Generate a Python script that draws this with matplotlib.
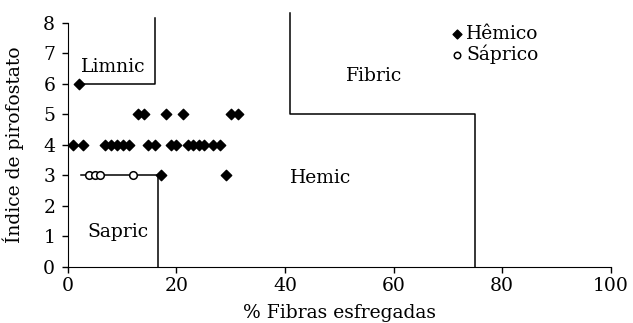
import matplotlib
matplotlib.use("Agg")
import matplotlib.pyplot as plt

plt.rcParams['font.family'] = ['DejaVu Serif']

# Data
hemico_x = [2.1,
            12.9, 14.0, 18.1, 21.2, 30.0, 31.3,
            0.9, 2.8, 6.9, 8.0, 9.0, 10.1, 11.2, 14.7, 16.0, 19.0, 20.0, 22.1, 23.0, 24.1, 25.1, 26.8, 28.0,
            17.2, 29.1]
hemico_y = [6,
            5, 5, 5, 5, 5, 5,
            4, 4, 4, 4, 4, 4, 4, 4, 4, 4, 4, 4, 4, 4, 4, 4, 4,
            3, 3]
saprico_x = [3.9, 5.0, 6.0, 12.1]
saprico_y = [3, 3, 3, 3]

# Classification boundaries
limnic_x = [16.1, 16.1, 2.1]
limnic_y = [8.15, 6, 6]
sapric_x = [2.5, 16.6, 16.6]
sapric_y = [3, 3, 0]
fibric_x = [41, 41, 75, 75]
fibric_y = [8.3, 5, 5, 0]

region_labels = ["Limnic", "Fibric", "Hemic", "Sapric"]
region_pos = [(8.3, 6.55), (56.5, 6.25), (46.5, 2.9), (9.2, 1.15)]

FS = 13.5

fig = plt.figure(figsize=(6.33, 3.23), dpi=100)
ax = fig.add_axes([0.107, 0.174, 0.858, 0.756])

for bx, by in [(limnic_x, limnic_y), (sapric_x, sapric_y), (fibric_x, fibric_y)]:
    ax.plot(bx, by, color='black', lw=1.1, clip_on=False, zorder=2)

ax.scatter(hemico_x, hemico_y, marker='D', s=28, color='black', label='Hêmico', zorder=3, clip_on=False)
ax.scatter(saprico_x, saprico_y, marker='o', s=30, facecolor='white', edgecolor='black', linewidths=1.1,
           label='Sáprico', zorder=4, clip_on=False)

for lab, (x, y) in zip(region_labels, region_pos):
    ax.text(x, y, lab, ha='center', va='center', fontsize=FS)

ax.set_xlim(0, 100)
ax.set_ylim(0, 8)
ax.set_xticks([0, 20, 40, 60, 80, 100])
ax.set_yticks(range(0, 9))
ax.spines['top'].set_visible(False)
ax.spines['right'].set_visible(False)
ax.tick_params(axis='both', labelsize=FS, length=4, width=1, direction='out')
ax.tick_params(axis='x', pad=3)
ax.tick_params(axis='y', pad=5)
ax.set_xlabel('% Fibras esfregadas', fontsize=FS, labelpad=7)
ax.set_ylabel('Índice de pirofostato', fontsize=FS, labelpad=14)

ax.legend(loc='upper left', bbox_to_anchor=(0.69, 1.02), frameon=False, fontsize=FS,
          handletextpad=0.05, labelspacing=0.05, borderaxespad=0, handlelength=0.8, markerscale=0.85)

fig.savefig('out.png', dpi=100)
